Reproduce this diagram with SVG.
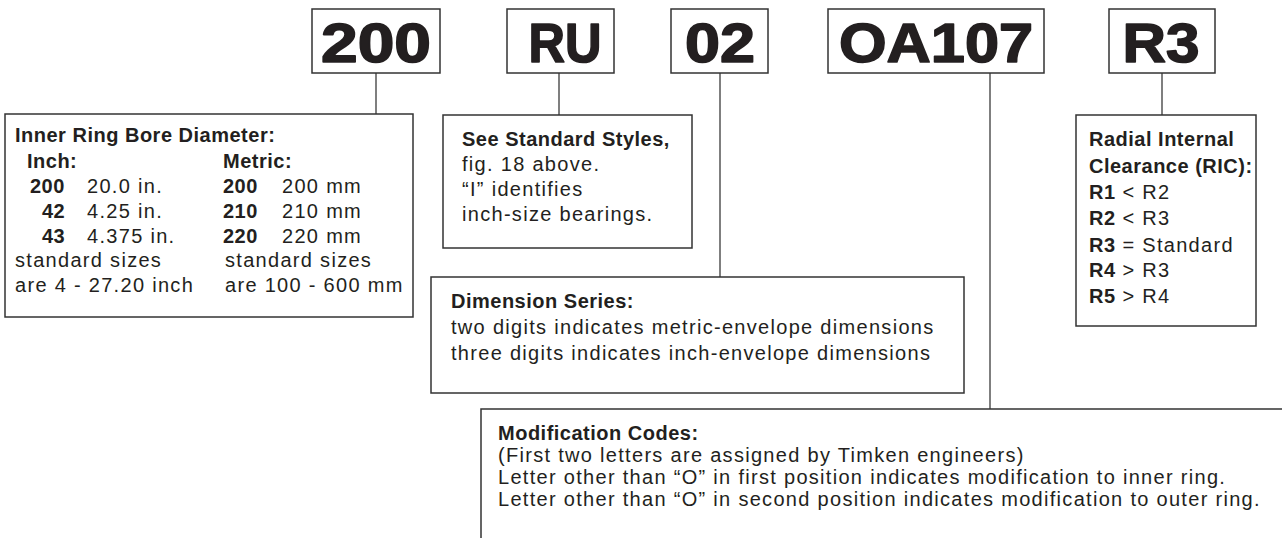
<svg xmlns="http://www.w3.org/2000/svg" width="1282" height="538" viewBox="0 0 1282 538">
<style>
  .bg { fill: #ffffff; }
  .box { fill: #ffffff; stroke: #333333; stroke-width: 1.5; }
  .conn { stroke: #555555; stroke-width: 1.5; fill: none; }
  .code { font-family: "Liberation Sans", Arial, sans-serif; font-weight: bold; font-size: 56px; fill: #231f20; stroke: #231f20; stroke-width: 1.6; stroke-linejoin: round; }
  .t { font-family: "Liberation Sans", Arial, sans-serif; font-size: 20px; letter-spacing: 1.3px; fill: #231f20; }
  .b { font-weight: bold; letter-spacing: 0.5px; }
</style>
<rect class="bg" x="0" y="0" width="1282" height="538"/>

<g id="connectors">
  <line class="conn" x1="376" y1="73" x2="376" y2="114"/>
  <line class="conn" x1="559" y1="73" x2="559" y2="115"/>
  <line class="conn" x1="720" y1="73" x2="720" y2="277"/>
  <line class="conn" x1="990" y1="73" x2="990" y2="409"/>
  <line class="conn" x1="1162" y1="73" x2="1162" y2="115"/>
</g>

<g id="code-200">
  <rect class="box" x="312" y="9" width="128" height="64"/>
  <text class="code" x="376" y="62" text-anchor="middle" textLength="110" lengthAdjust="spacingAndGlyphs">200</text>
</g>
<g id="code-RU">
  <rect class="box" x="507" y="9" width="107" height="64"/>
  <text class="code" x="565" y="62" text-anchor="middle" textLength="73" lengthAdjust="spacingAndGlyphs">RU</text>
</g>
<g id="code-02">
  <rect class="box" x="671" y="9" width="97" height="64"/>
  <text class="code" x="720" y="62" text-anchor="middle" textLength="70" lengthAdjust="spacingAndGlyphs">02</text>
</g>
<g id="code-OA107">
  <rect class="box" x="828" y="9" width="216" height="64"/>
  <text class="code" x="936" y="62" text-anchor="middle" textLength="194" lengthAdjust="spacingAndGlyphs">OA107</text>
</g>
<g id="code-R3">
  <rect class="box" x="1109" y="9" width="106" height="64"/>
  <text class="code" x="1161" y="62" text-anchor="middle" textLength="77" lengthAdjust="spacingAndGlyphs">R3</text>
</g>

<g id="bore-diameter">
  <rect class="box" x="5" y="114" width="408" height="203"/>
  <text class="t b" x="15" y="142">Inner Ring Bore Diameter:</text>
  <text class="t b" x="27" y="168">Inch:</text>
  <text class="t b" x="223" y="168">Metric:</text>
  <text class="t b" x="30" y="193">200</text>
  <text class="t" x="87" y="193">20.0 in.</text>
  <text class="t b" x="42" y="218">42</text>
  <text class="t" x="87" y="218">4.25 in.</text>
  <text class="t b" x="42" y="243">43</text>
  <text class="t" x="87" y="243">4.375 in.</text>
  <text class="t b" x="223" y="193">200</text>
  <text class="t" x="282" y="193">200 mm</text>
  <text class="t b" x="223" y="218">210</text>
  <text class="t" x="282" y="218">210 mm</text>
  <text class="t b" x="223" y="243">220</text>
  <text class="t" x="282" y="243">220 mm</text>
  <text class="t" x="15" y="267">standard sizes</text>
  <text class="t" x="225" y="267">standard sizes</text>
  <text class="t" x="15" y="292">are 4 - 27.20 inch</text>
  <text class="t" x="225" y="292">are 100 - 600 mm</text>
</g>

<g id="standard-styles">
  <rect class="box" x="443" y="115" width="249" height="133"/>
  <text class="t b" x="462" y="146">See Standard Styles,</text>
  <text class="t" x="462" y="171">fig. 18 above.</text>
  <text class="t" x="462" y="196">“I” identifies</text>
  <text class="t" x="462" y="221">inch-size bearings.</text>
</g>

<g id="dimension-series">
  <rect class="box" x="431" y="277" width="533" height="116"/>
  <text class="t b" x="451" y="308">Dimension Series:</text>
  <text class="t" x="451" y="334">two digits indicates metric-envelope dimensions</text>
  <text class="t" x="451" y="360">three digits indicates inch-envelope dimensions</text>
</g>

<g id="modification-codes">
  <path class="box" d="M1283,409 H481 V539"/>
  <text class="t b" x="498" y="440">Modification Codes:</text>
  <text class="t" x="498" y="462">(First two letters are assigned by Timken engineers)</text>
  <text class="t" x="498" y="484">Letter other than “O” in first position indicates modification to inner ring.</text>
  <text class="t" x="498" y="506">Letter other than “O” in second position indicates modification to outer ring.</text>
</g>

<g id="ric">
  <rect class="box" x="1076" y="115" width="180" height="211"/>
  <text class="t b" x="1089" y="146">Radial Internal</text>
  <text class="t b" x="1089" y="173">Clearance (RIC):</text>
  <text class="t" x="1089" y="199"><tspan class="b">R1</tspan> &lt; R2</text>
  <text class="t" x="1089" y="225"><tspan class="b">R2</tspan> &lt; R3</text>
  <text class="t" x="1089" y="252"><tspan class="b">R3</tspan> = Standard</text>
  <text class="t" x="1089" y="277"><tspan class="b">R4</tspan> &gt; R3</text>
  <text class="t" x="1089" y="303"><tspan class="b">R5</tspan> &gt; R4</text>
</g>
</svg>
